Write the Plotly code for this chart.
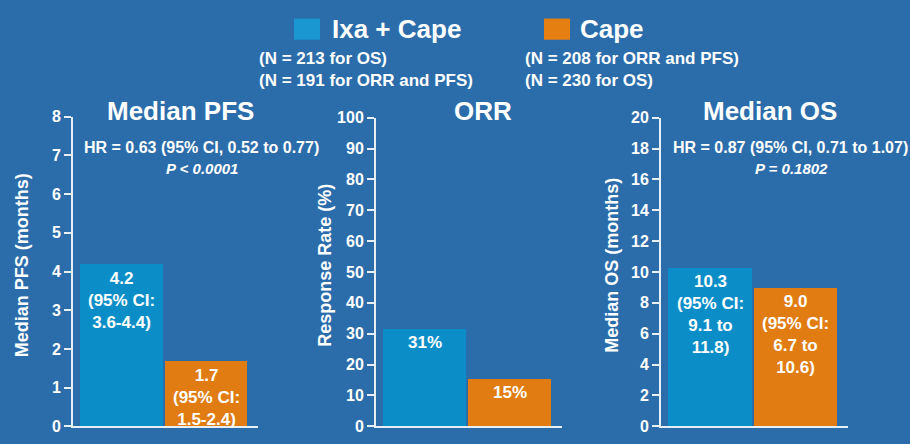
import plotly.graph_objects as go

W, H = 910, 444

groups = ["Ixa + Cape", "Cape"]
colors = ["#0b8ec8", "#e07c12"]

pfs_values = [4.2, 1.7]
pfs_labels = ["4.2<br>(95% CI:<br>3.6-4.4)", "1.7<br>(95% CI:<br>1.5-2.4)"]
orr_values = [31.8, 15.6]
orr_labels = ["31%", "15%"]
os_values = [10.3, 9.0]
os_labels = ["10.3<br>(95% CI:<br>9.1 to<br>11.8)", "9.0<br>(95% CI:<br>6.7 to<br>10.6)"]

pfs_ticks = list(range(0, 9, 1))
orr_ticks = list(range(0, 101, 10))
os_ticks = list(range(0, 21, 2))

panel_titles = ["Median PFS", "ORR", "Median OS"]
axis_titles = ["Median PFS (months)", "Response Rate (%)", "Median OS (months)"]
hr_texts = ["HR = 0.63 (95% CI, 0.52 to 0.77)", None, "HR = 0.87 (95% CI, 0.71 to 1.07)"]
p_texts = ["P < 0.0001", None, "P = 0.1802"]
n_texts = [["(N = 213 for OS)", "(N = 191 for ORR and PFS)"],
           ["(N = 208 for ORR and PFS)", "(N = 230 for OS)"]]

FONT = "Liberation Sans, Arial, sans-serif"
WHITE = "#ffffff"
LINE = "#e6eef6"

def px(x):
    return x / W

def py(y):
    return 1 - y / H

fig = go.Figure()

panels = [
    dict(values=pfs_values, labels=pfs_labels, ticks=pfs_ticks, rng=[0, 8], x0=73, x1=258, top=113),
    dict(values=orr_values, labels=orr_labels, ticks=orr_ticks, rng=[0, 100], x0=376, x1=562, top=114),
    dict(values=os_values, labels=os_labels, ticks=os_ticks, rng=[0, 20], x0=661, x1=848, top=114),
]

bottom = 435
annotations = []
for i, p in enumerate(panels):
    sx = "" if i == 0 else str(i + 1)
    fig.add_trace(go.Bar(
        x=[0, 1], y=p["values"], width=0.98,
        marker=dict(color=colors, line=dict(width=0)),
        xaxis="x" + sx, yaxis="y" + sx, showlegend=False, hoverinfo="skip",
    ))
    fig.update_layout(**{
        "xaxis" + sx: dict(
            domain=[px(p["x0"]), px(p["x1"])], range=[-0.575, 1.615],
            showgrid=False, zeroline=False, showticklabels=False, ticks="",
            showline=True, linecolor=LINE, linewidth=2, anchor="y" + sx, fixedrange=True,
        ),
        "yaxis" + sx: dict(
            domain=[py(bottom), py(p["top"])], range=p["rng"],
            tickvals=p["ticks"], ticktext=[str(t) for t in p["ticks"]],
            showgrid=False, zeroline=False, ticks="outside", ticklen=7, tickwidth=1.5,
            tickcolor=LINE, showline=True, linecolor=LINE, linewidth=2,
            tickfont=dict(family=FONT, size=16, color=WHITE, weight="bold"),
            anchor="x" + sx, fixedrange=True,
        ),
    })
    for j, (v, lab) in enumerate(zip(p["values"], p["labels"])):
        annotations.append(dict(
            xref="x" + sx, yref="y" + sx, x=j, y=v, yanchor="top", xanchor="center",
            text=lab, showarrow=False, yshift=-3,
            font=dict(family=FONT, size=17, color=WHITE, weight="bold"),
        ))

title_pos = [(180, 107), (483, 107), (770, 107)]
for t, (x, y) in zip(panel_titles, title_pos):
    annotations.append(dict(xref="paper", yref="paper", x=px(x), y=py(y), xanchor="center",
                            yanchor="middle", text=t, showarrow=False,
                            font=dict(family=FONT, size=26, color=WHITE, weight="bold")))

axt_pos = [21.5, 325, 612]
for t, x in zip(axis_titles, axt_pos):
    annotations.append(dict(xref="paper", yref="paper", x=px(x), y=py(268), xanchor="center",
                            yanchor="middle", text=t, showarrow=False, textangle=-90,
                            font=dict(family=FONT, size=18, color=WHITE, weight="bold")))

hr_pos = [(201, 145, 167), None, (790, 145, 167)]
for hr, pt, pos in zip(hr_texts, p_texts, hr_pos):
    if hr is None:
        continue
    x, yh, yp = pos
    annotations.append(dict(xref="paper", yref="paper", x=px(x), y=py(yh), xanchor="center",
                            yanchor="middle", text=hr, showarrow=False,
                            font=dict(family=FONT, size=16, color=WHITE, weight="bold")))
    annotations.append(dict(xref="paper", yref="paper", x=px(x + 1), y=py(yp), xanchor="center",
                            yanchor="middle", text="<i>" + pt + "</i>", showarrow=False,
                            font=dict(family=FONT, size=15, color=WHITE, weight="bold")))

leg = [(294, 320, 330, 257), (544, 570, 578, 523)]
shapes = []
for g, c, (s0, s1, tx, nx), nt in zip(groups, ["#1a96d0", "#e57f12"], leg, n_texts):
    shapes.append(dict(type="rect", xref="paper", yref="paper", x0=px(s0), x1=px(s1),
                       y0=py(33), y1=py(11), fillcolor=c, line=dict(width=0)))
    annotations.append(dict(xref="paper", yref="paper", x=px(tx), y=py(22), xanchor="left",
                            yanchor="middle", text=g, showarrow=False,
                            font=dict(family=FONT, size=26, color=WHITE, weight="bold")))
    for k, line in enumerate(nt):
        annotations.append(dict(xref="paper", yref="paper", x=px(nx), y=py(52 + 23 * k),
                                xanchor="left", yanchor="middle", text=line, showarrow=False,
                                font=dict(family=FONT, size=17, color=WHITE, weight="bold")))

fig.update_layout(
    width=W, height=H, margin=dict(l=0, r=0, t=0, b=0),
    paper_bgcolor="#2b6dab", plot_bgcolor="rgba(0,0,0,0)",
    annotations=annotations, shapes=shapes, showlegend=False, bargap=0,
)

fig.write_html("out.html")
